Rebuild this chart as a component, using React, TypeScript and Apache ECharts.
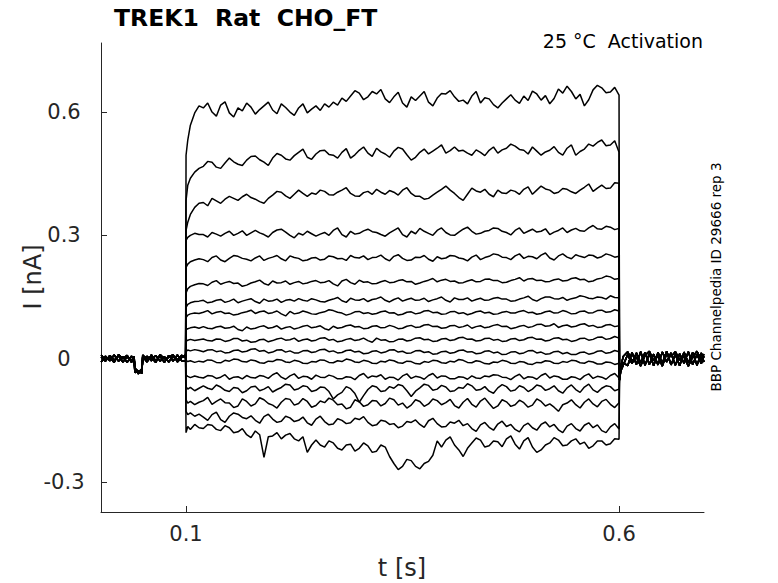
import React, { useEffect, useRef } from "react";
import * as echarts from "echarts";

// Axis ticks
const X_TICKS = [0.1, 0.6];
const Y_TICKS = [-0.3, 0, 0.3, 0.6];

// Time grids (s)
const PRE_T = [0.002, 0.007, 0.012, 0.017, 0.022, 0.027, 0.032, 0.037, 0.04, 0.041, 0.045, 0.049, 0.05, 0.055, 0.06, 0.065, 0.07, 0.075, 0.08, 0.085, 0.09, 0.095, 0.0995];
const PULSE_T = [
  0.1, 0.102, 0.105, 0.11, 0.115,
  0.12, 0.125, 0.13, 0.135, 0.14, 0.145, 0.15, 0.155, 0.16, 0.165, 0.17, 0.175, 0.18, 0.185, 0.19, 0.195, 0.2, 0.205, 0.21, 0.215,
  0.22, 0.225, 0.23, 0.235, 0.24, 0.245, 0.25, 0.255, 0.26, 0.265, 0.27, 0.275, 0.28, 0.285, 0.29, 0.295, 0.3, 0.305, 0.31, 0.315,
  0.32, 0.325, 0.33, 0.335, 0.34, 0.345, 0.35, 0.355, 0.36, 0.365, 0.37, 0.375, 0.38, 0.385, 0.39, 0.395, 0.4, 0.405, 0.41, 0.415,
  0.42, 0.425, 0.43, 0.435, 0.44, 0.445, 0.45, 0.455, 0.46, 0.465, 0.47, 0.475, 0.48, 0.485, 0.49, 0.495, 0.5, 0.505, 0.51, 0.515,
  0.52, 0.525, 0.53, 0.535, 0.54, 0.545, 0.55, 0.555, 0.56, 0.565, 0.57, 0.575, 0.58, 0.585, 0.59, 0.595, 0.6,
];
const POST_T = [0.6005, 0.602, 0.605, 0.61, 0.615, 0.62, 0.625, 0.63, 0.635, 0.64, 0.645, 0.65, 0.655, 0.66, 0.665, 0.67, 0.675, 0.68, 0.685, 0.69, 0.695, 0.698];

// Holding-current baselines (nA)
const PRE_A = [0.005, -0.006, 0.008, -0.004, 0.007, -0.008, 0.004, -0.005, 0.002, -0.026, -0.03, -0.028, -0.003, 0.006, -0.005, 0.008, -0.006, 0.005, -0.008, 0.006, -0.003, 0.008, 0.002];
const PRE_B = [-0.008, 0.006, -0.005, 0.009, -0.006, 0.005, -0.009, 0.006, -0.005, -0.034, -0.029, -0.036, 0.005, -0.008, 0.009, -0.005, 0.006, -0.009, 0.008, -0.006, 0.009, -0.005, -0.006];
const PRE_C = [0.009, -0.003, 0.003, -0.009, 0.01, 0.0, 0.008, -0.009, 0.006, -0.022, -0.037, -0.024, 0.009, -0.002, 0.003, -0.009, 0.01, 0.0, 0.003, 0.01, -0.008, 0.003, 0.009];
const POST_A = [-0.052, -0.03, -0.015, 0.01, -0.012, 0.014, -0.01, 0.015, -0.014, 0.011, -0.015, 0.016, -0.008, 0.014, -0.016, 0.012, -0.011, 0.017, -0.014, 0.01, -0.012, 0.006];
const POST_B = [-0.045, -0.022, -0.01, -0.017, 0.015, -0.014, 0.017, -0.016, 0.012, -0.017, 0.015, -0.011, 0.018, -0.015, 0.01, -0.017, 0.016, -0.01, 0.015, -0.016, 0.014, -0.008];
const POST_C = [-0.038, -0.018, 0.006, 0.017, -0.006, 0.004, -0.018, 0.008, 0.018, -0.005, 0.006, -0.018, 0.012, 0.005, 0.017, -0.003, 0.005, -0.018, 0.004, 0.018, -0.003, 0.011];

// Currents during the voltage step (nA), one array per sweep, sampled on PULSE_T
const T1 = [
  0.495, 0.532, 0.568, 0.598, 0.615,
  0.61, 0.622, 0.6, 0.59, 0.617, 0.625, 0.598, 0.588, 0.61, 0.603, 0.622, 0.612, 0.595, 0.606, 0.615, 0.624, 0.605, 0.596, 0.62, 0.611,
  0.6, 0.592, 0.61, 0.62, 0.598, 0.607, 0.615, 0.604, 0.62, 0.612, 0.624, 0.617, 0.634, 0.626, 0.639, 0.652, 0.646, 0.63, 0.637, 0.65,
  0.644, 0.655, 0.632, 0.623, 0.637, 0.648, 0.622, 0.612, 0.637, 0.628, 0.639, 0.65, 0.624, 0.615, 0.634, 0.645, 0.644, 0.652, 0.637, 0.626,
  0.629, 0.62, 0.639, 0.65, 0.622, 0.635, 0.632, 0.618, 0.61, 0.622, 0.632, 0.642, 0.629, 0.621, 0.639, 0.628, 0.651, 0.644, 0.629, 0.64,
  0.62, 0.633, 0.656, 0.646, 0.663, 0.65, 0.632, 0.643, 0.615, 0.63, 0.654, 0.665, 0.659, 0.647, 0.649, 0.66, 0.641,
];
const T2 = [
  0.385, 0.422, 0.439, 0.454, 0.463,
  0.468, 0.48, 0.478, 0.466, 0.463, 0.476, 0.488, 0.479, 0.473, 0.47, 0.483, 0.492, 0.493, 0.484, 0.478, 0.47, 0.488, 0.499, 0.495, 0.486,
  0.483, 0.494, 0.502, 0.51, 0.49, 0.485, 0.498, 0.506, 0.507, 0.497, 0.495, 0.488, 0.502, 0.511, 0.488, 0.496, 0.507, 0.515, 0.5, 0.492,
  0.512, 0.503, 0.498, 0.49, 0.505, 0.514, 0.51, 0.496, 0.483, 0.49, 0.502, 0.51, 0.498, 0.505, 0.512, 0.52, 0.5, 0.506, 0.515, 0.505,
  0.507, 0.5, 0.495, 0.508, 0.502, 0.494, 0.507, 0.515, 0.5, 0.508, 0.512, 0.522, 0.517, 0.509, 0.507, 0.498, 0.515, 0.505, 0.495, 0.503,
  0.507, 0.516, 0.502, 0.495, 0.512, 0.52, 0.495, 0.504, 0.51, 0.522, 0.517, 0.526, 0.532, 0.518, 0.52, 0.53, 0.502,
];
const T3 = [
  0.312, 0.332, 0.351, 0.368, 0.378,
  0.38, 0.372, 0.39, 0.384, 0.378, 0.388, 0.395, 0.39, 0.385, 0.394, 0.4, 0.392, 0.388, 0.382, 0.378, 0.39, 0.398, 0.407, 0.405, 0.396,
  0.39, 0.4, 0.41, 0.402, 0.395, 0.403, 0.4, 0.41, 0.407, 0.399, 0.398, 0.405, 0.41, 0.416, 0.402, 0.396, 0.395, 0.404, 0.407, 0.4,
  0.412, 0.405, 0.4, 0.409, 0.405, 0.398, 0.41, 0.416, 0.402, 0.395, 0.395, 0.388, 0.39, 0.398, 0.405, 0.412, 0.42, 0.41, 0.402, 0.392,
  0.385, 0.4, 0.415, 0.408, 0.405, 0.412, 0.4, 0.394, 0.41, 0.403, 0.402, 0.41, 0.407, 0.4, 0.412, 0.418, 0.4, 0.41, 0.42, 0.413,
  0.41, 0.402, 0.405, 0.414, 0.412, 0.406, 0.402, 0.41, 0.417, 0.425, 0.407, 0.415, 0.422, 0.414, 0.415, 0.428, 0.427,
];
const T4 = [
  0.288, 0.295, 0.3, 0.305, 0.302,
  0.302, 0.296, 0.307, 0.303, 0.298, 0.305, 0.31, 0.3, 0.305, 0.311, 0.3, 0.306, 0.312, 0.306, 0.302, 0.296, 0.307, 0.313, 0.315, 0.308,
  0.3, 0.294, 0.305, 0.301, 0.31, 0.304, 0.298, 0.303, 0.307, 0.3, 0.312, 0.318, 0.302, 0.296, 0.31, 0.303, 0.305, 0.311, 0.315, 0.309,
  0.307, 0.302, 0.298, 0.306, 0.312, 0.318, 0.302, 0.296, 0.31, 0.304, 0.317, 0.31, 0.305, 0.3, 0.312, 0.318, 0.307, 0.301, 0.3, 0.308,
  0.315, 0.32, 0.31, 0.303, 0.305, 0.31, 0.312, 0.318, 0.317, 0.31, 0.307, 0.301, 0.312, 0.318, 0.305, 0.31, 0.315, 0.308, 0.31, 0.316,
  0.302, 0.308, 0.312, 0.318, 0.307, 0.313, 0.317, 0.311, 0.31, 0.318, 0.324, 0.316, 0.315, 0.322, 0.32, 0.314, 0.317,
];
const T5 = [
  0.222, 0.23, 0.236, 0.24, 0.243,
  0.241, 0.236, 0.246, 0.25, 0.24, 0.236, 0.244, 0.251, 0.249, 0.244, 0.242, 0.238, 0.245, 0.25, 0.239, 0.244, 0.247, 0.251, 0.243, 0.238,
  0.25, 0.246, 0.244, 0.238, 0.24, 0.245, 0.246, 0.24, 0.242, 0.25, 0.248, 0.243, 0.244, 0.239, 0.251, 0.246, 0.245, 0.25, 0.241, 0.246,
  0.247, 0.252, 0.243, 0.238, 0.249, 0.253, 0.244, 0.239, 0.24, 0.247, 0.246, 0.251, 0.242, 0.237, 0.248, 0.243, 0.245, 0.251, 0.25, 0.245,
  0.243, 0.238, 0.247, 0.252, 0.241, 0.246, 0.249, 0.255, 0.253, 0.247, 0.246, 0.241, 0.25, 0.255, 0.244, 0.249, 0.248, 0.243, 0.252, 0.257,
  0.245, 0.24, 0.25, 0.255, 0.247, 0.243, 0.253, 0.249, 0.246, 0.252, 0.251, 0.245, 0.248, 0.255, 0.252, 0.247, 0.249,
];
const T6 = [
  0.16, 0.17, 0.176, 0.18, 0.183,
  0.182, 0.178, 0.186, 0.19, 0.181, 0.185, 0.188, 0.183, 0.184, 0.176, 0.179, 0.184, 0.187, 0.191, 0.183, 0.179, 0.189, 0.184, 0.185, 0.189,
  0.181, 0.185, 0.188, 0.182, 0.184, 0.188, 0.19, 0.185, 0.186, 0.19, 0.182, 0.177, 0.189, 0.193, 0.185, 0.181, 0.191, 0.186, 0.187, 0.182,
  0.183, 0.187, 0.19, 0.185, 0.186, 0.19, 0.192, 0.187, 0.188, 0.181, 0.184, 0.188, 0.191, 0.195, 0.187, 0.191, 0.193, 0.188, 0.189, 0.184,
  0.185, 0.189, 0.192, 0.187, 0.188, 0.193, 0.194, 0.19, 0.19, 0.185, 0.186, 0.19, 0.193, 0.197, 0.189, 0.194, 0.195, 0.19, 0.191, 0.187,
  0.188, 0.192, 0.194, 0.189, 0.19, 0.195, 0.197, 0.192, 0.193, 0.187, 0.189, 0.194, 0.196, 0.201, 0.199, 0.193, 0.195,
];
const T7 = [
  0.125, 0.132, 0.136, 0.139, 0.14,
  0.142, 0.136, 0.138, 0.142, 0.144, 0.137, 0.14, 0.145, 0.136, 0.14, 0.143, 0.146, 0.139, 0.135, 0.145, 0.14, 0.141, 0.145, 0.137, 0.142,
  0.144, 0.14, 0.146, 0.142, 0.14, 0.146, 0.143, 0.139, 0.138, 0.142, 0.145, 0.149, 0.141, 0.137, 0.147, 0.143, 0.142, 0.146, 0.139, 0.144,
  0.146, 0.15, 0.142, 0.138, 0.144, 0.148, 0.14, 0.144, 0.147, 0.142, 0.143, 0.147, 0.139, 0.143, 0.146, 0.15, 0.142, 0.138, 0.148, 0.144,
  0.144, 0.148, 0.14, 0.144, 0.147, 0.142, 0.143, 0.147, 0.149, 0.145, 0.145, 0.14, 0.141, 0.145, 0.148, 0.152, 0.144, 0.14, 0.146, 0.15,
  0.15, 0.146, 0.145, 0.149, 0.142, 0.146, 0.148, 0.153, 0.151, 0.147, 0.146, 0.15, 0.149, 0.145, 0.153, 0.149, 0.148,
];
const T8 = [
  0.1, 0.106, 0.109, 0.111, 0.11,
  0.113, 0.117, 0.109, 0.113, 0.115, 0.11, 0.111, 0.106, 0.108, 0.112, 0.114, 0.118, 0.11, 0.114, 0.116, 0.11, 0.112, 0.116, 0.109, 0.104,
  0.115, 0.109, 0.111, 0.116, 0.113, 0.109, 0.108, 0.112, 0.114, 0.119, 0.117, 0.113, 0.111, 0.106, 0.109, 0.114, 0.115, 0.11, 0.112, 0.108,
  0.11, 0.114, 0.116, 0.111, 0.112, 0.106, 0.108, 0.113, 0.114, 0.109, 0.111, 0.116, 0.117, 0.112, 0.113, 0.108, 0.109, 0.114, 0.115, 0.11,
  0.112, 0.107, 0.11, 0.114, 0.116, 0.111, 0.113, 0.108, 0.109, 0.113, 0.115, 0.111, 0.111, 0.115, 0.117, 0.112, 0.113, 0.108, 0.11, 0.114,
  0.116, 0.111, 0.112, 0.117, 0.114, 0.109, 0.11, 0.115, 0.116, 0.111, 0.112, 0.117, 0.118, 0.113, 0.114, 0.119, 0.116,
];
const T9 = [
  0.07, 0.073, 0.075, 0.077, 0.074,
  0.078, 0.074, 0.073, 0.077, 0.079, 0.074, 0.075, 0.079, 0.071, 0.068, 0.077, 0.072, 0.074, 0.078, 0.08, 0.074, 0.076, 0.08, 0.072, 0.076,
  0.078, 0.072, 0.075, 0.079, 0.081, 0.075, 0.077, 0.08, 0.073, 0.07, 0.079, 0.074, 0.076, 0.08, 0.082, 0.077, 0.078, 0.073, 0.074, 0.079,
  0.08, 0.075, 0.076, 0.081, 0.078, 0.073, 0.074, 0.079, 0.081, 0.076, 0.077, 0.082, 0.083, 0.078, 0.079, 0.074, 0.075, 0.08, 0.081, 0.076,
  0.078, 0.082, 0.074, 0.078, 0.08, 0.075, 0.077, 0.081, 0.083, 0.078, 0.079, 0.073, 0.075, 0.079, 0.081, 0.076, 0.078, 0.083, 0.084, 0.079,
  0.08, 0.085, 0.076, 0.08, 0.082, 0.077, 0.079, 0.083, 0.085, 0.079, 0.081, 0.076, 0.077, 0.082, 0.083, 0.078, 0.08,
];
const T10 = [
  0.042, 0.045, 0.047, 0.044, 0.046,
  0.048, 0.044, 0.043, 0.048, 0.047, 0.042, 0.044, 0.049, 0.049, 0.043, 0.045, 0.04, 0.041, 0.046, 0.047, 0.041, 0.044, 0.048, 0.05, 0.045,
  0.046, 0.05, 0.042, 0.046, 0.048, 0.043, 0.045, 0.05, 0.051, 0.045, 0.047, 0.041, 0.043, 0.047, 0.049, 0.044, 0.046, 0.05, 0.044, 0.04,
  0.05, 0.045, 0.046, 0.041, 0.042, 0.047, 0.048, 0.043, 0.045, 0.05, 0.051, 0.046, 0.047, 0.042, 0.043, 0.048, 0.049, 0.044, 0.046, 0.051,
  0.052, 0.047, 0.048, 0.043, 0.044, 0.049, 0.05, 0.045, 0.047, 0.042, 0.043, 0.048, 0.049, 0.044, 0.046, 0.051, 0.052, 0.047, 0.048, 0.043,
  0.045, 0.05, 0.051, 0.046, 0.047, 0.042, 0.044, 0.049, 0.05, 0.045, 0.047, 0.052, 0.053, 0.047, 0.049, 0.054, 0.05,
];
const T11 = [
  0.018, 0.021, 0.019, 0.022, 0.02,
  0.017, 0.021, 0.022, 0.017, 0.019, 0.014, 0.015, 0.02, 0.021, 0.016, 0.018, 0.023, 0.024, 0.018, 0.02, 0.014, 0.016, 0.021, 0.022, 0.016,
  0.019, 0.014, 0.014, 0.019, 0.02, 0.015, 0.017, 0.022, 0.023, 0.017, 0.019, 0.014, 0.015, 0.02, 0.021, 0.016, 0.018, 0.012, 0.013, 0.018,
  0.019, 0.014, 0.016, 0.021, 0.022, 0.016, 0.018, 0.013, 0.014, 0.019, 0.02, 0.015, 0.017, 0.011, 0.012, 0.017, 0.018, 0.013, 0.015, 0.02,
  0.021, 0.016, 0.017, 0.012, 0.013, 0.018, 0.019, 0.014, 0.016, 0.01, 0.011, 0.016, 0.017, 0.012, 0.014, 0.019, 0.02, 0.014, 0.016, 0.011,
  0.012, 0.017, 0.018, 0.012, 0.015, 0.01, 0.01, 0.015, 0.016, 0.011, 0.013, 0.018, 0.019, 0.013, 0.015, 0.02, 0.017,
];
const T12 = [
  -0.004, -0.007, -0.005, -0.009, -0.006,
  -0.008, -0.003, -0.004, -0.009, -0.01, -0.004, -0.006, -0.001, -0.002, -0.007, -0.008, -0.003, -0.005, -0.01, -0.011, -0.006, -0.007, -0.002, -0.003, -0.008,
  -0.009, -0.004, -0.006, -0.011, -0.012, -0.007, -0.008, -0.003, -0.004, -0.009, -0.01, -0.005, -0.007, -0.001, -0.003, -0.008, -0.009, -0.004, -0.006, -0.011,
  -0.012, -0.006, -0.008, -0.003, -0.005, -0.01, -0.011, -0.006, -0.007, -0.012, -0.013, -0.007, -0.009, -0.004, -0.005, -0.01, -0.011, -0.006, -0.008, -0.002,
  -0.004, -0.009, -0.01, -0.005, -0.007, -0.012, -0.013, -0.008, -0.009, -0.004, -0.006, -0.011, -0.012, -0.007, -0.008, -0.013, -0.014, -0.009, -0.01, -0.005,
  -0.006, -0.011, -0.012, -0.007, -0.009, -0.004, -0.005, -0.01, -0.011, -0.006, -0.008, -0.013, -0.013, -0.008, -0.009, -0.014, -0.011,
];
const T13 = [
  -0.04, -0.043, -0.046, -0.042, -0.045,
  -0.047, -0.041, -0.042, -0.048, -0.045, -0.039, -0.05, -0.045, -0.044, -0.049, -0.041, -0.046, -0.047, -0.041, -0.043, -0.048, -0.039, -0.034, -0.045, -0.05,
  -0.042, -0.037, -0.048, -0.043, -0.044, -0.05, -0.04, -0.045, -0.046, -0.04, -0.043, -0.049, -0.049, -0.044, -0.045, -0.051, -0.041, -0.036, -0.047, -0.042,
  -0.044, -0.039, -0.05, -0.045, -0.046, -0.052, -0.042, -0.037, -0.048, -0.043, -0.045, -0.05, -0.041, -0.036, -0.047, -0.042, -0.043, -0.049, -0.049, -0.044,
  -0.045, -0.05, -0.042, -0.047, -0.048, -0.042, -0.044, -0.039, -0.04, -0.045, -0.046, -0.051, -0.043, -0.038, -0.049, -0.044, -0.045, -0.05, -0.041, -0.036,
  -0.047, -0.042, -0.044, -0.05, -0.05, -0.044, -0.046, -0.051, -0.042, -0.037, -0.048, -0.043, -0.045, -0.05, -0.041, -0.036, -0.047,
];
const T14 = [
  -0.068, -0.074, -0.07, -0.078, -0.072,
  -0.066, -0.072, -0.075, -0.064, -0.069, -0.077, -0.08, -0.07, -0.072, -0.083, -0.078, -0.069, -0.067, -0.078, -0.074, -0.068, -0.081, -0.075, -0.07, -0.062,
  -0.064, -0.076, -0.073, -0.066, -0.068, -0.08, -0.077, -0.069, -0.07, -0.08, -0.098, -0.088, -0.082, -0.068, -0.073, -0.085, -0.106, -0.09, -0.075, -0.066,
  -0.069, -0.08, -0.078, -0.068, -0.072, -0.063, -0.066, -0.078, -0.092, -0.079, -0.071, -0.062, -0.065, -0.077, -0.074, -0.065, -0.069, -0.08, -0.078, -0.07,
  -0.072, -0.061, -0.066, -0.077, -0.075, -0.068, -0.079, -0.084, -0.071, -0.063, -0.068, -0.079, -0.076, -0.066, -0.07, -0.08, -0.074, -0.064, -0.067, -0.077,
  -0.073, -0.066, -0.078, -0.084, -0.071, -0.064, -0.075, -0.082, -0.069, -0.062, -0.076, -0.082, -0.072, -0.066, -0.068, -0.078, -0.074,
];
const T15 = [
  -0.1, -0.108, -0.104, -0.112, -0.106,
  -0.102, -0.094, -0.111, -0.104, -0.098, -0.107, -0.108, -0.119, -0.115, -0.098, -0.104, -0.115, -0.11, -0.095, -0.1, -0.109, -0.113, -0.12, -0.106, -0.097,
  -0.099, -0.113, -0.109, -0.097, -0.104, -0.118, -0.114, -0.103, -0.107, -0.096, -0.101, -0.112, -0.11, -0.122, -0.118, -0.1, -0.105, -0.116, -0.112, -0.102,
  -0.103, -0.115, -0.109, -0.096, -0.1, -0.113, -0.108, -0.12, -0.113, -0.1, -0.104, -0.116, -0.11, -0.098, -0.102, -0.112, -0.107, -0.099, -0.114, -0.12,
  -0.106, -0.097, -0.111, -0.118, -0.103, -0.096, -0.109, -0.121, -0.115, -0.1, -0.105, -0.116, -0.112, -0.101, -0.107, -0.118, -0.113, -0.098, -0.104, -0.115,
  -0.11, -0.118, -0.128, -0.112, -0.108, -0.1, -0.112, -0.12, -0.106, -0.098, -0.11, -0.117, -0.104, -0.099, -0.111, -0.119, -0.107,
];
const T16 = [
  -0.128, -0.136, -0.132, -0.14, -0.135,
  -0.142, -0.15, -0.136, -0.13, -0.148, -0.155, -0.14, -0.132, -0.135, -0.143, -0.146, -0.139, -0.15, -0.157, -0.141, -0.135, -0.147, -0.155, -0.152, -0.14,
  -0.144, -0.153, -0.15, -0.142, -0.156, -0.162, -0.147, -0.14, -0.153, -0.161, -0.159, -0.146, -0.15, -0.158, -0.156, -0.145, -0.148, -0.141, -0.155, -0.163,
  -0.161, -0.15, -0.152, -0.16, -0.158, -0.168, -0.164, -0.153, -0.155, -0.149, -0.16, -0.167, -0.151, -0.145, -0.158, -0.166, -0.165, -0.154, -0.157, -0.15,
  -0.163, -0.158, -0.17, -0.177, -0.161, -0.155, -0.167, -0.174, -0.159, -0.152, -0.165, -0.16, -0.172, -0.178, -0.163, -0.157, -0.168, -0.174, -0.16, -0.154,
  -0.166, -0.16, -0.173, -0.18, -0.164, -0.158, -0.17, -0.176, -0.162, -0.156, -0.168, -0.161, -0.175, -0.18, -0.166, -0.158, -0.171,
];
const T17 = [
  -0.18, -0.165, -0.172, -0.16, -0.168,
  -0.17, -0.16, -0.162, -0.172, -0.175, -0.163, -0.168, -0.18, -0.178, -0.17, -0.185, -0.192, -0.176, -0.185, -0.24, -0.19, -0.188, -0.18, -0.195, -0.186,
  -0.182, -0.195, -0.2, -0.19, -0.228, -0.21, -0.198, -0.21, -0.215, -0.2, -0.205, -0.218, -0.222, -0.21, -0.208, -0.225, -0.218, -0.205, -0.212, -0.228,
  -0.225, -0.21, -0.215, -0.238, -0.255, -0.27, -0.262, -0.245, -0.248, -0.262, -0.268, -0.255, -0.25, -0.235, -0.2, -0.215, -0.198, -0.19, -0.21, -0.222,
  -0.238, -0.218, -0.205, -0.193, -0.198, -0.215, -0.212, -0.2, -0.202, -0.214, -0.195, -0.188, -0.208, -0.22, -0.2, -0.192, -0.215, -0.228, -0.222, -0.21,
  -0.205, -0.192, -0.198, -0.212, -0.21, -0.2, -0.195, -0.208, -0.203, -0.218, -0.212, -0.2, -0.2, -0.21, -0.207, -0.195, -0.196,
];

const SWEEPS = [T1, T2, T3, T4, T5, T6, T7, T8, T9, T10, T11, T12, T13, T14, T15, T16, T17];
const PRE_BASE = [PRE_A, PRE_B, PRE_C];
const POST_BASE = [POST_A, POST_B, POST_C];

const AXIS_COLOR = "#262626";
const FONT = "DejaVu Sans";

export default function App() {
  const ref = useRef<HTMLDivElement>(null);

  useEffect(() => {
    document.body.style.margin = "0";
    const chart = echarts.init(ref.current as HTMLDivElement, null, { renderer: "svg" });

    const series = SWEEPS.map((sweep, k) => {
      const pre = PRE_BASE[k % 3];
      const post = POST_BASE[k % 3];
      const data: number[][] = [];
      PRE_T.forEach((t, i) => data.push([t, pre[i]]));
      const n = Math.min(PULSE_T.length, sweep.length);
      for (let i = 0; i < n; i++) data.push([PULSE_T[i], sweep[i]]);
      POST_T.forEach((t, i) => data.push([t, post[i]]));
      return {
        type: "line",
        data,
        showSymbol: false,
        symbol: "none",
        silent: true,
        lineStyle: { color: "#000000", width: 1.5 },
      };
    });

    const textStyle = (size: number, weight = "normal", color = "#000000") => ({
      fontSize: size,
      fontFamily: FONT,
      fontWeight: weight,
      fill: color,
    });

    chart.setOption({
      animation: false,
      grid: { left: 101, right: 74, top: 43, bottom: 71, containLabel: false },
      xAxis: {
        type: "value",
        min: 0.0018,
        max: 0.6981,
        axisLine: { show: true, onZero: false, lineStyle: { color: AXIS_COLOR, width: 1 } },
        axisTick: { show: true, inside: true, length: 6, customValues: X_TICKS, lineStyle: { color: AXIS_COLOR } },
        axisLabel: {
          customValues: X_TICKS,
          formatter: (v: number) => String(v),
          fontSize: 21,
          fontFamily: FONT,
          color: AXIS_COLOR,
          margin: 11,
        },
        splitLine: { show: false },
      },
      yAxis: {
        type: "value",
        min: -0.373,
        max: 0.768,
        axisLine: { show: true, onZero: false, lineStyle: { color: AXIS_COLOR, width: 1 } },
        axisTick: { show: true, inside: true, length: 6, customValues: Y_TICKS, lineStyle: { color: AXIS_COLOR } },
        axisLabel: {
          customValues: Y_TICKS,
          formatter: (v: number) => String(v),
          fontSize: 21,
          fontFamily: FONT,
          color: AXIS_COLOR,
          align: "center",
          margin: 37,
        },
        splitLine: { show: false },
      },
      series,
      graphic: [
        {
          type: "text",
          x: 114,
          y: 18,
          style: { text: "TREK1  Rat  CHO_FT", ...textStyle(23.5, "bold"), align: "left", verticalAlign: "middle", textAlign: "left", textVerticalAlign: "middle" },
        },
        {
          type: "text",
          x: 703,
          y: 41,
          style: { text: "25 °C  Activation", ...textStyle(19), align: "right", verticalAlign: "middle", textAlign: "right", textVerticalAlign: "middle" },
        },
        {
          type: "text",
          x: 402,
          y: 568,
          style: { text: "t [s]", ...textStyle(24, "normal", AXIS_COLOR), align: "center", verticalAlign: "middle", textAlign: "center", textVerticalAlign: "middle" },
        },
        {
          type: "text",
          x: 33,
          y: 277,
          rotation: Math.PI / 2,
          style: { text: "I [nA]", ...textStyle(24, "normal", AXIS_COLOR), align: "center", verticalAlign: "middle", textAlign: "center", textVerticalAlign: "middle" },
        },
        {
          type: "text",
          x: 716,
          y: 277,
          rotation: Math.PI / 2,
          style: { text: "BBP Channelpedia ID 29666 rep 3", ...textStyle(13.5), align: "center", verticalAlign: "middle", textAlign: "center", textVerticalAlign: "middle" },
        },
      ],
    });

    return () => {
      chart.dispose();
    };
  }, []);

  return <div ref={ref} style={{ width: 778, height: 583 }} />;
}
